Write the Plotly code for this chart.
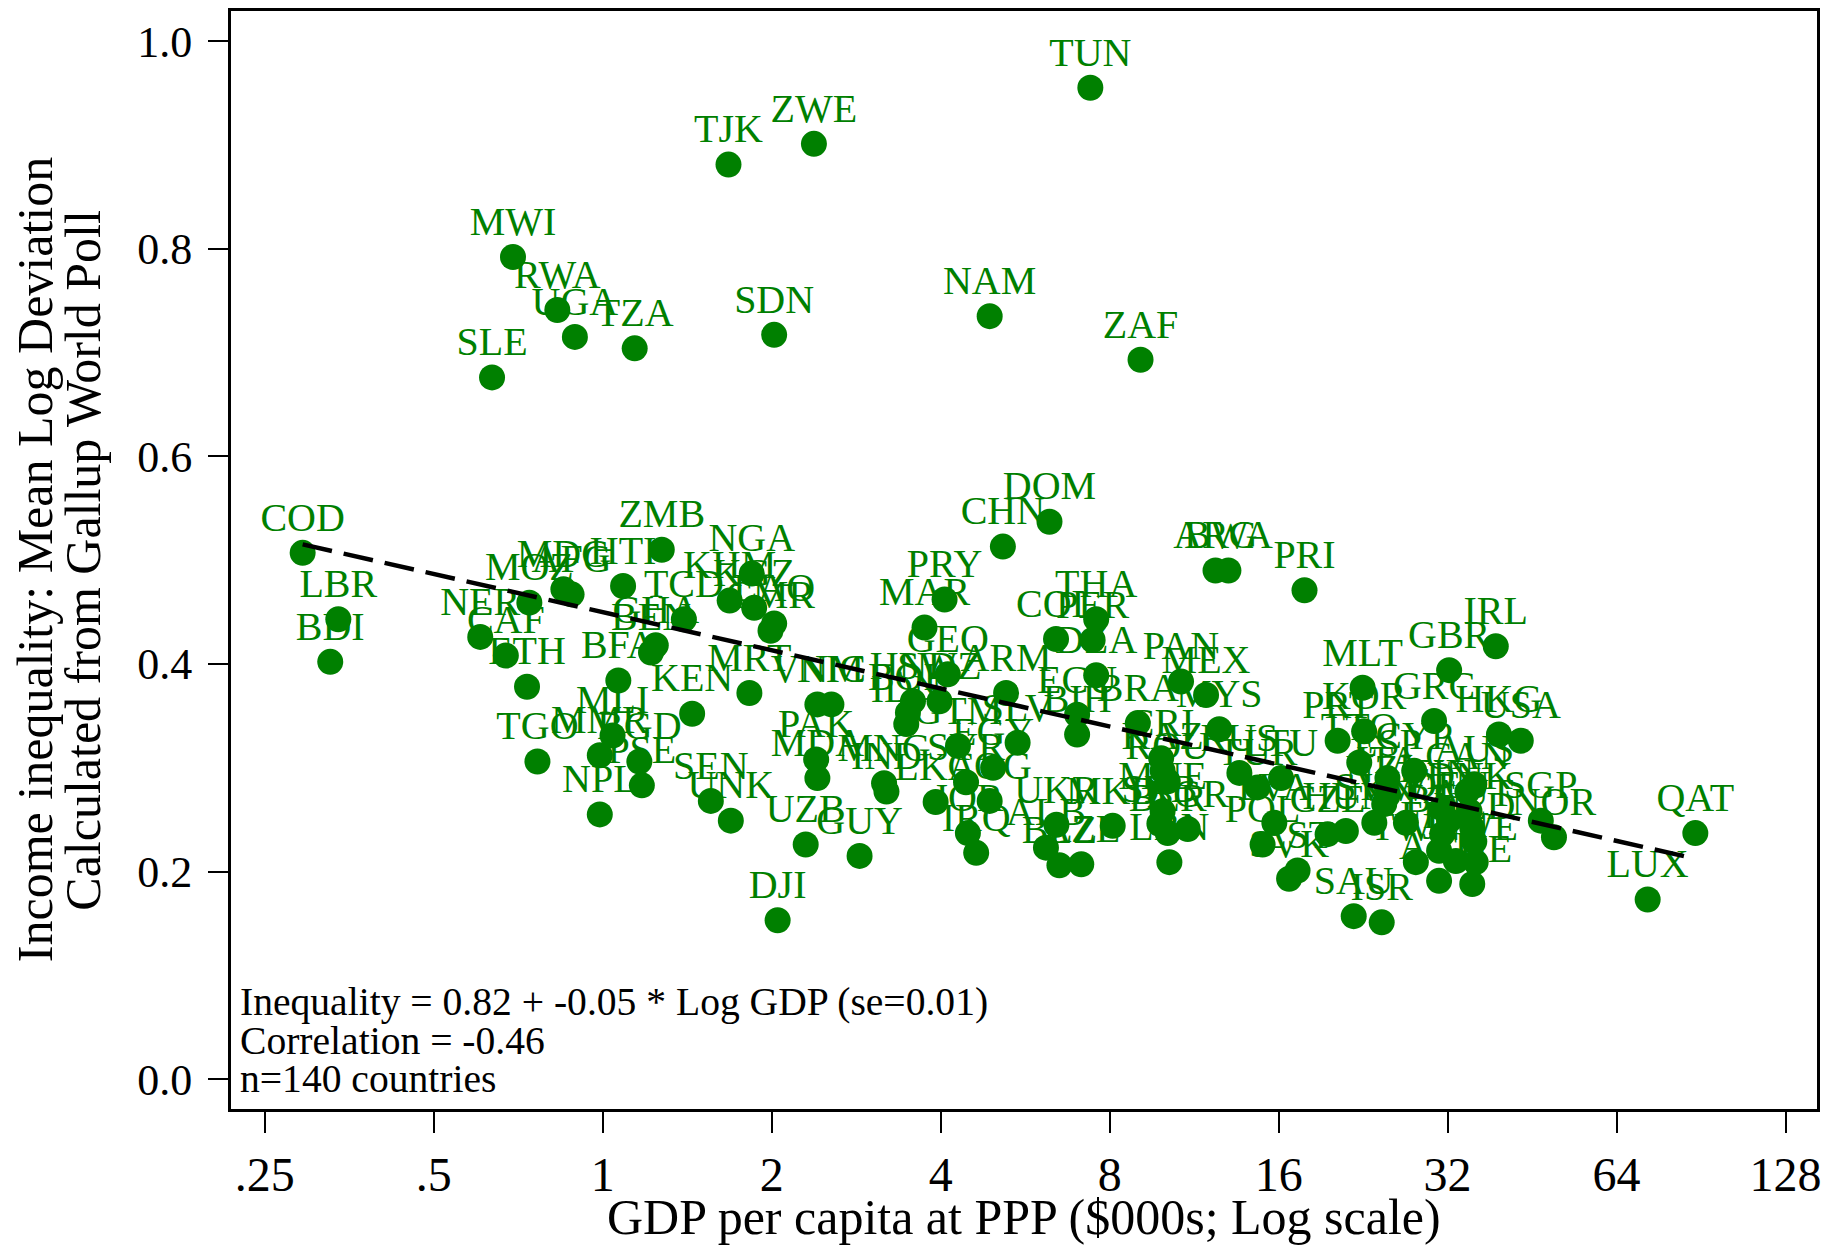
import numpy as np
import plotly.graph_objects as go

COUNTRIES = ["COD","LBR","BDI","SLE","MWI","RWA","UGA","TZA","TJK","ZWE","TUN","SDN","NAM","ZAF",
             "NER","CAF","ETH","MOZ","MDG","AFG","HTI","ZMB","TCD","GHA","BEN","BFA","MLI","KEN",
             "TGO","MMR","BGD","PSE","NPL","SEN","UNK","NGA","KHM","KGZ","LAO","CMR","MRT","VNM",
             "NIC","UZB","GUY","DJI","PAK","MDA","MNG","IND","LKA","HND","BOL","IDN","GEO","SWZ",
             "ARM","PRY","MAR","CHN","DOM","COL","PER","THA","DZA","ECU","BIH","GTM","SLV","EGY",
             "SYR","COG","JOR","IRQ","UKR","ALB","BLZ","AZE","PAN","MEX","BRA","MYS","CRI","KAZ",
             "ROU","RUS","TUR","LTU","MNE","SRB","BLR","BGR","MKD","LVA","POL","LBN","PRT","CZE",
             "HUN","SVK","EST","SAU","ISR","IRL","GBR","MLT","GRC","HKG","USA","KOR","TTO","ESP",
             "CYP","ITA","NZL","SVN","KWT","TWN","FIN","DEU","BEL","CAN","AUS","DNK","AUT","NLD",
             "FRA","JPN","SWE","ARE","CHE","SGP","NOR","QAT","LUX","ARG","BWA","PRI"]

GDP = [0.292,0.338,0.327,0.635,0.692,0.830,0.892,1.140,1.675,2.378,7.39,2.02,4.89,9.08,
       0.605,0.672,0.733,0.740,0.851,0.880,1.087,1.274,1.395,1.243,1.219,1.066,1.041,1.443,
       0.765,0.988,1.162,1.174,0.988,1.558,1.691,1.843,1.683,1.861,2.02,1.990,1.825,2.412,
       2.555,2.299,2.868,2.049,2.400,2.412,3.171,3.202,3.918,3.570,3.497,3.473,4.118,3.981,
       5.231,4.064,3.743,5.162,6.25,6.42,7.46,7.57,7.57,7.00,7.00,4.293,5.484,4.96,
       4.438,4.89,4.472,4.627,6.43,6.16,6.51,7.12,10.72,11.88,8.98,12.54,9.88,9.94,
       10.15,13.62,14.67,16.16,9.94,9.81,10.15,11.02,8.10,15.72,14.98,10.22,20.38,19.56,
       21.08,16.70,17.29,21.77,24.42,38.99,32.2,22.58,30.27,39.5,43.2,22.72,22.27,25.0,
       27.9,25.0,24.67,23.69,26.97,28.09,31.3,32.2,31.3,34.7,35.7,35.0,35.4,35.7,
       30.9,33.1,35.9,30.9,35.4,46.9,49.5,88.4,72.7,12.35,13.02,17.79]

INEQ = [0.507,0.443,0.402,0.676,0.792,0.741,0.715,0.704,0.881,0.901,0.955,0.717,0.735,0.693,
        0.426,0.408,0.378,0.459,0.472,0.467,0.475,0.510,0.443,0.418,0.411,0.384,0.331,0.352,
        0.306,0.312,0.306,0.283,0.255,0.268,0.249,0.487,0.461,0.454,0.439,0.432,0.372,0.361,
        0.361,0.226,0.215,0.153,0.308,0.290,0.285,0.277,0.267,0.364,0.353,0.342,0.390,0.364,
        0.372,0.462,0.435,0.513,0.537,0.424,0.423,0.443,0.389,0.351,0.332,0.321,0.324,0.300,
        0.286,0.268,0.237,0.218,0.245,0.223,0.206,0.207,0.383,0.370,0.343,0.337,0.309,0.297,
        0.287,0.295,0.281,0.290,0.258,0.246,0.237,0.241,0.244,0.247,0.226,0.209,0.326,0.236,
        0.239,0.193,0.201,0.157,0.151,0.417,0.394,0.377,0.345,0.332,0.326,0.335,0.305,0.290,
        0.297,0.273,0.265,0.247,0.247,0.209,0.261,0.249,0.236,0.277,0.284,0.258,0.242,0.229,
        0.220,0.210,0.209,0.191,0.188,0.249,0.233,0.237,0.173,0.490,0.490,0.471]

# Fitted line: Inequality = b0 + b1 * ln(GDP in $)
FIT_INTERCEPT = 0.816
FIT_SLOPE = -0.053

X_TICKS = [0.25, 0.5, 1, 2, 4, 8, 16, 32, 64, 128]
X_TICKTEXT = [".25", ".5", "1", "2", "4", "8", "16", "32", "64", "128"]
Y_TICKS = [0.0, 0.2, 0.4, 0.6, 0.8, 1.0]
Y_TICKTEXT = ["0.0", "0.2", "0.4", "0.6", "0.8", "1.0"]

STATS_LINES = ["Inequality = 0.82 + -0.05 * Log GDP (se=0.01)",
               "Correlation = -0.46",
               "n=140 countries"]
STATS_Y = [0.0742, 0.0371, 0.0]

GREEN = "#008000"
FONT = "Liberation Serif"

fig = go.Figure()
# markers
fig.add_trace(go.Scatter(
    x=GDP, y=INEQ, mode="markers",
    marker=dict(size=26, color=GREEN, line=dict(width=0)),
    cliponaxis=False, showlegend=False, hoverinfo="skip"))
# labels (invisible smaller markers control the label offset)
fig.add_trace(go.Scatter(
    x=GDP, y=INEQ, text=COUNTRIES, mode="markers+text",
    marker=dict(size=18, color=GREEN, opacity=0),
    textposition="top center",
    textfont=dict(family=FONT, size=40, color=GREEN),
    cliponaxis=False, showlegend=False, hoverinfo="skip"))

gmin, gmax = min(GDP), max(GDP)
fx = np.exp(np.linspace(np.log(gmin), np.log(gmax), 50))
fy = FIT_INTERCEPT + FIT_SLOPE * np.log(fx * 1000)
fig.add_trace(go.Scatter(x=fx, y=fy, mode="lines",
                         line=dict(color="black", width=4.5, dash="30px,12px"),
                         showlegend=False, hoverinfo="skip"))

ann = []
for s, yv in zip(STATS_LINES, STATS_Y):
    ann.append(dict(x=0.0045, xref="paper", y=yv, yref="y",
                    text=s, showarrow=False, xanchor="left", yanchor="middle",
                    font=dict(family=FONT, size=39.6, color="black")))
ann.append(dict(x=-0.1235, xref="paper", y=0.5, yref="paper",
                text="Income inequality: Mean Log Deviation", textangle=-90,
                showarrow=False, xanchor="center", yanchor="middle",
                font=dict(family=FONT, size=50, color="black")))
ann.append(dict(x=-0.0935, xref="paper", y=0.5, yref="paper",
                text="Calculated from Gallup World Poll", textangle=-90,
                showarrow=False, xanchor="center", yanchor="middle",
                font=dict(family=FONT, size=50, color="black")))
ann.append(dict(x=0.5, xref="paper", y=-0.098, yref="paper",
                text="GDP per capita at PPP ($000s; Log scale)",
                showarrow=False, xanchor="center", yanchor="middle",
                font=dict(family=FONT, size=50, color="black")))

fig.update_layout(
    width=1829, height=1239,
    margin=dict(l=223, r=20, t=0, b=138),
    paper_bgcolor="white", plot_bgcolor="white",
    font=dict(family=FONT, color="black"),
    annotations=ann,
    xaxis=dict(type="log", range=[np.log10(2**-2.2), np.log10(2**7.186)],
               tickvals=X_TICKS, ticktext=X_TICKTEXT, ticks="outside",
               ticklen=21, tickwidth=2, tickcolor="black",
               showline=True, linewidth=3, linecolor="black", mirror=True,
               showgrid=False, zeroline=False,
               tickfont=dict(family=FONT, size=48, color="black"),
               ticklabelstandoff=0),
    yaxis=dict(range=[-0.0288, 1.0290], tickvals=Y_TICKS, ticktext=Y_TICKTEXT,
               ticks="outside", ticklen=20, tickwidth=2, tickcolor="black",
               showline=True, linewidth=3, linecolor="black", mirror=True,
               showgrid=False, zeroline=False,
               tickfont=dict(family=FONT, size=44, color="black"),
               ticklabelstandoff=7),
)

fig.write_html("out.html")
